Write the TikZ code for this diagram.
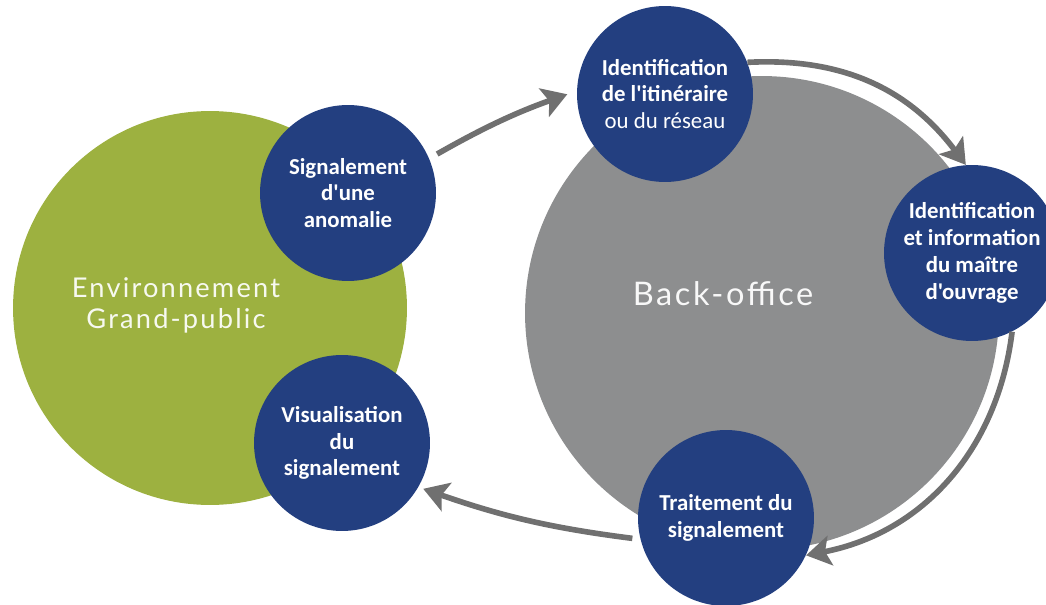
\documentclass[tikz,border=0pt]{standalone}
\usepackage{fontspec}
\usetikzlibrary{arrows.meta}
\newfontfamily\stepfont{Carlito}[Ligatures=TeXOff]
\newfontfamily\zonefont{Lato}[LetterSpace=8]
\definecolor{envgreen}{RGB}{157,177,64}
\definecolor{backgray}{RGB}{141,142,143}
\definecolor{stepblue}{RGB}{35,63,128}
\definecolor{arrowgray}{RGB}{112,112,112}

\begin{document}
\begin{tikzpicture}[x=0.02cm, y=-0.02cm,
    zone/.style={circle, inner sep=0pt},
    zonelabel/.style={align=center, inner sep=0pt},
    stepnode/.style={circle, fill=stepblue, minimum size=3.52cm, inner sep=0pt, text=white, align=center,
      font=\stepfont\bfseries\fontsize{13}{15.3}\selectfont},
    flow/.style={draw=arrowgray, line width=3.2pt, -{Stealth[length=14pt,width=17pt,inset=3pt]}}]
  \useasboundingbox (0,0) rectangle (1046,605);

  % the two big zones
  \node[zone, fill=envgreen, minimum size=7.88cm] (grand) at (210,308) {};
  \node[zone, fill=backgray, minimum size=9.48cm] (back) at (762,313) {};
  \node[zonelabel, text=white!92!envgreen, font=\zonefont\fontsize{15.5}{17.6}\selectfont] (envlabel) at (176,305) {Environnement\\Grand-public};
  \node[zonelabel, text=white!94!backgray, font=\zonefont\fontsize{18.5}{20}\selectfont, anchor=base] (backlabel) at (723,305) {Back-office};

  % cycle
  \node[stepnode] (sig) at (348,193) {Signalement\\d'une\\anomalie};
  \node[stepnode] (itin) at (665,94) {Identification\\de l'itinéraire\\\mdseries ou du réseau};
  \node[stepnode] (maitre) at (972,253) {Identification\\et information\\du maître\\d'ouvrage};
  \node[stepnode] (trait) at (726,518) {Traitement du\\signalement};
  \node[stepnode] (vis) at (342,443) {Visualisation\\du\\signalement};

  \draw[flow, shorten <=0.18cm, shorten >=0.2cm] (sig.23) to[bend left=5] (itin.178);
  \draw[flow] (itin.21) .. controls +(-3:95) and +(-127:95) .. (maitre.94);
  \draw[flow] (maitre.-63) .. controls +(97:119) and +(-11:119) .. (trait.-25);
  \draw[flow, shorten <=0.16cm, shorten >=0.1cm] (trait.194) to[bend left=6] (vis.-30);
\end{tikzpicture}
\end{document}
